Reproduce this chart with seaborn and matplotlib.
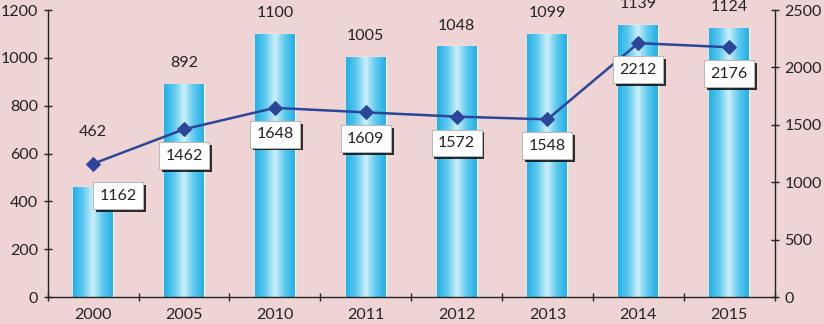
import numpy as np
import pandas as pd
import matplotlib
matplotlib.use("Agg")
import matplotlib.pyplot as plt
import matplotlib.patheffects as pe
from matplotlib.colors import LinearSegmentedColormap
import seaborn as sns

years = ["2000", "2005", "2010", "2011", "2012", "2013", "2014", "2015"]
bar_values = [462, 892, 1100, 1005, 1048, 1099, 1139, 1124]
line_values = [1162, 1462, 1648, 1609, 1572, 1548, 2212, 2176]

bg = "#EED4D4"
line_color = "#2B4699"

sns.set_theme(style="white")
plt.rcParams["font.family"] = ["Lato", "DejaVu Sans"]

df = pd.DataFrame({"year": years, "bars": bar_values, "line": line_values})

fig = plt.figure(figsize=(8.24, 3.24), dpi=100, facecolor=bg)
ax = fig.add_axes([0.058, 0.083, 0.882, 0.886])
ax.set_facecolor(bg)

sns.barplot(data=df, x="year", y="bars", color="#2BB5E8", width=0.44,
            saturation=1, ax=ax, zorder=2)

# gradient fill on each bar
cmap = LinearSegmentedColormap.from_list(
    "cyl", ["#22B0E6", "#5CC8EE", "#CDEFF8", "#5CC8EE", "#22B0E6"])
grad = np.linspace(0, 1, 256).reshape(1, -1)
for p in ax.patches:
    x0, y0 = p.get_x(), p.get_y()
    w, h = p.get_width(), p.get_height()
    im = ax.imshow(grad, cmap=cmap, aspect="auto", extent=[x0, x0 + w, y0, y0 + h],
                   zorder=2.1)
    im.set_clip_path(p)

ax.set_xlim(-0.5, 7.5)
ax.set_ylim(0, 1200)
ax.set_yticks(np.arange(0, 1201, 200))
ax.set_xlabel("")
ax.set_ylabel("")

for i, v in enumerate(bar_values):
    dy = 34 if i == 0 else 10
    ax.annotate(str(v), (i, v), xytext=(0, dy), textcoords="offset points",
                ha="center", va="bottom", fontsize=11.5, color="#222222")

ax2 = ax.twinx()
ax2.set_ylim(0, 2500)
ax2.set_yticks(np.arange(0, 2501, 500))
sns.lineplot(data=df, x="year", y="line", ax=ax2, color=line_color, lw=1.8,
             marker="D", markersize=7, markeredgecolor=line_color, zorder=5)
ax2.set_ylabel("")
ax2.set_xlim(-0.5, 7.5)

for i, v in enumerate(line_values):
    dx = 18 if i == 0 else 0
    dy = -23 if i == 0 else -19
    t = ax2.annotate(str(v), (i, v), xytext=(dx, dy), textcoords="offset points",
                     ha="center", va="center", fontsize=11.5, color="#222222", zorder=6,
                     bbox=dict(boxstyle="square,pad=0.4", fc="white", ec="#AAAAAA", lw=0.5))
    t.get_bbox_patch().set_path_effects([
        pe.withSimplePatchShadow(offset=(2, -2), shadow_rgbFace="black", alpha=0.8),
        pe.Normal()])

for a in (ax, ax2):
    a.spines["top"].set_visible(False)
    a.spines["left"].set_visible(a is ax)
    a.spines["right"].set_visible(a is ax2)
    a.spines["bottom"].set_visible(a is ax)
    for s in ("left", "right", "bottom"):
        a.spines[s].set_color("#222222")
        a.spines[s].set_linewidth(1.0)
    a.tick_params(axis="both", labelsize=11.5, colors="#222222", length=6,
                  direction="inout", width=1.0)
ax.tick_params(axis="y", left=True, pad=4)
ax2.tick_params(axis="y", right=True, pad=4)
ax2.tick_params(axis="x", bottom=False)

ax.set_xticks(np.arange(8))
ax.set_xticklabels(years)
ax.tick_params(axis="x", bottom=False, pad=5)
ax.set_xticks(np.arange(-0.5, 8, 1), minor=True)
ax.tick_params(axis="x", which="minor", bottom=True, length=6, direction="inout",
               width=1.0, color="#222222")

ax2.set_zorder(ax.get_zorder() + 1)
ax2.patch.set_visible(False)

fig.savefig("out.png", dpi=100, facecolor=bg)
